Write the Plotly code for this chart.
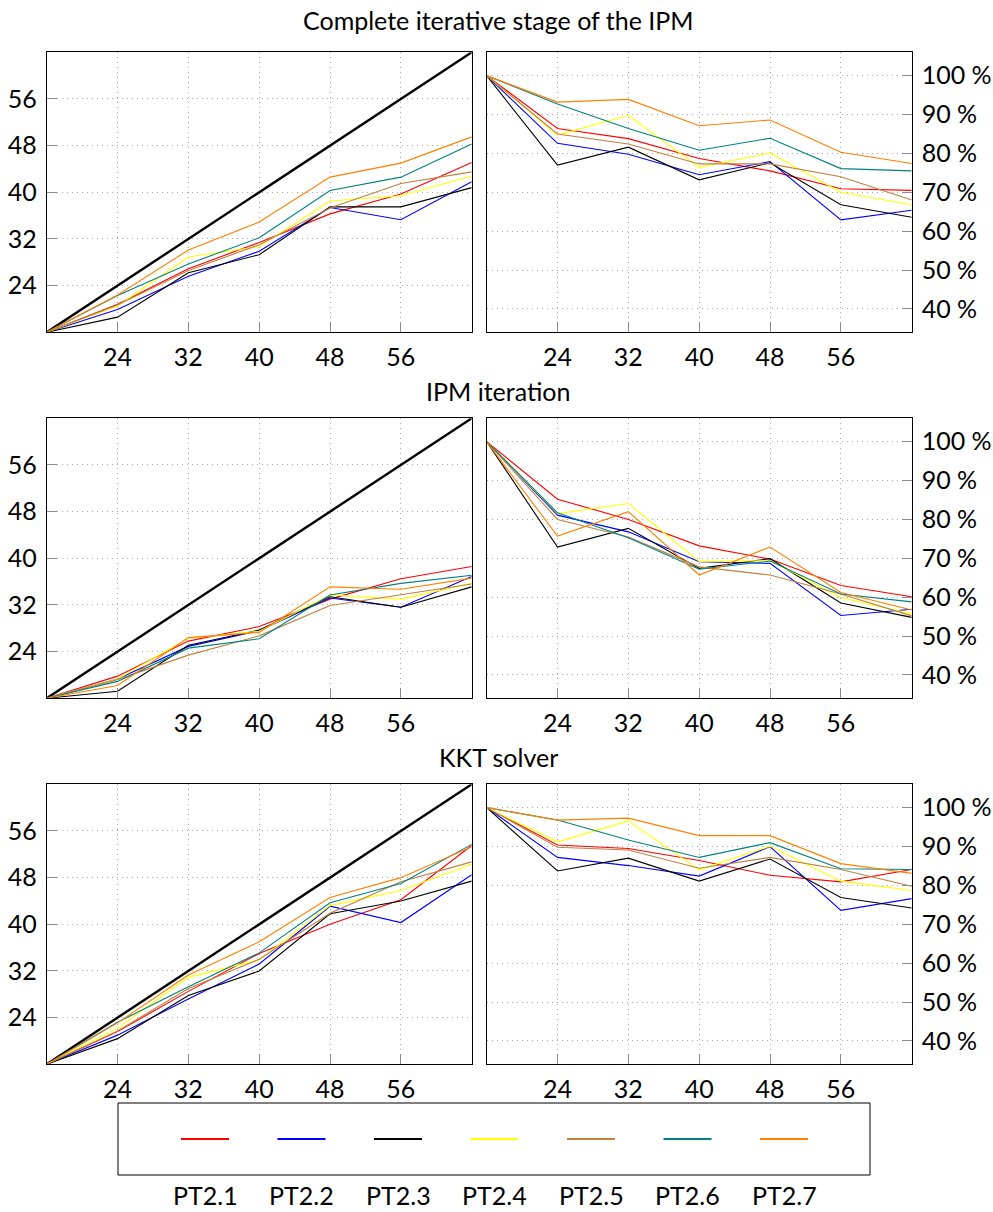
import plotly.graph_objects as go

threads = [16, 24, 32, 40, 48, 56, 64]
ideal = [16, 24, 32, 40, 48, 56, 64]

series_names = ["PT2.1", "PT2.2", "PT2.3", "PT2.4", "PT2.5", "PT2.6", "PT2.7"]
series_colors = ["#ff0000", "#0000ff", "#000000", "#ffff00", "#bf8040", "#008080", "#ff8000"]

panel_titles = ["Complete iterative stage of the IPM", "IPM iteration", "KKT solver"]

# Speedup (left column)
speedup_complete = [
    [16, 20.8, 26.9, 31.4, 36.3, 39.7, 45.1],
    [16, 19.9, 25.6, 29.9, 37.4, 35.3, 41.8],
    [16, 18.6, 26.2, 29.3, 37.5, 37.5, 40.8],
    [16, 20.5, 28.9, 30.7, 38.5, 39.4, 42.8],
    [16, 20.7, 26.6, 31.0, 37.3, 41.5, 43.5],
    [16, 22.3, 27.7, 32.2, 40.3, 42.6, 48.3],
    [16, 22.4, 30.1, 34.9, 42.6, 45.0, 49.5],
]
speedup_ipm = [
    [16, 19.8, 25.8, 28.3, 33.0, 36.5, 38.6],
    [16, 19.3, 24.9, 27.6, 33.2, 31.6, 36.9],
    [16, 17.2, 25.1, 27.7, 33.4, 31.6, 35.1],
    [16, 19.3, 26.3, 27.5, 33.7, 33.0, 35.7],
    [16, 19.2, 23.4, 26.7, 31.9, 33.7, 35.6],
    [16, 18.9, 24.6, 26.2, 33.7, 35.7, 37.1],
    [16, 18.2, 26.4, 27.3, 35.1, 34.7, 36.6],
]
speedup_kkt = [
    [16, 21.6, 28.5, 35.0, 40.0, 44.2, 53.5],
    [16, 21.0, 27.2, 33.2, 43.1, 40.3, 48.5],
    [16, 20.4, 27.8, 32.0, 41.8, 44.0, 47.4],
    [16, 22.2, 30.9, 33.9, 43.2, 45.8, 50.3],
    [16, 21.7, 29.0, 34.0, 41.9, 47.3, 50.7],
    [16, 23.2, 29.3, 35.1, 43.7, 47.0, 53.7],
    [16, 23.1, 31.3, 37.0, 44.6, 48.0, 53.3],
]

# Efficiency in % (right column)
eff_complete = [
    [100, 86.4, 83.8, 78.7, 75.5, 70.9, 70.5],
    [100, 82.6, 79.8, 74.5, 77.9, 62.9, 65.4],
    [100, 77.0, 81.6, 73.2, 77.6, 66.8, 63.6],
    [100, 84.7, 89.8, 76.4, 80.1, 70.0, 66.8],
    [100, 85.0, 82.4, 77.3, 77.3, 74.0, 68.0],
    [100, 92.7, 86.4, 80.8, 83.9, 76.1, 75.5],
    [100, 93.2, 93.9, 87.1, 88.6, 80.3, 77.4],
]
eff_ipm = [
    [100, 85.2, 80.0, 73.2, 69.8, 63.0, 60.1],
    [100, 81.1, 76.8, 69.1, 68.7, 55.3, 56.9],
    [100, 72.9, 77.7, 67.4, 69.9, 58.5, 54.8],
    [100, 81.5, 84.1, 69.2, 69.4, 59.9, 55.7],
    [100, 80.0, 75.5, 67.8, 65.7, 60.8, 55.2],
    [100, 81.7, 75.3, 67.2, 69.3, 60.8, 58.8],
    [100, 75.7, 82.0, 65.7, 72.9, 61.2, 56.7],
]
eff_kkt = [
    [100, 90.4, 89.5, 86.4, 82.6, 80.9, 84.1],
    [100, 87.2, 85.1, 82.4, 90.0, 73.6, 76.6],
    [100, 83.7, 87.0, 81.1, 86.8, 76.9, 74.2],
    [100, 91.2, 96.6, 84.0, 90.1, 81.1, 78.7],
    [100, 89.8, 89.1, 84.4, 87.2, 84.1, 79.8],
    [100, 96.8, 91.7, 87.2, 91.0, 84.3, 84.1],
    [100, 96.8, 97.3, 92.8, 92.8, 85.6, 83.1],
]

x_ticks = [24, 32, 40, 48, 56]
speedup_ticks = [24, 32, 40, 48, 56]
eff_ticks = [40, 50, 60, 70, 80, 90, 100]
eff_ticktext = ["40 %", "50 %", "60 %", "70 %", "80 %", "90 %", "100 %"]

speedups = [speedup_complete, speedup_ipm, speedup_kkt]
effs = [eff_complete, eff_ipm, eff_kkt]

W, H = 993, 1212
FONT = "Lato, 'Liberation Sans', sans-serif"
FS = 25

fig = go.Figure()

# pixel geometry
xl = (46.7 / W, 471.7 / W)
xr = (486.7 / W, 911.7 / W)
rows_px = [(52.3, 332.3), (418.3, 698.3), (784.3, 1064.3)]
title_y_px = [20, 391, 757]
title_x_px = 498

layout = dict(
    width=W, height=H,
    margin=dict(l=0, r=0, t=0, b=0),
    paper_bgcolor="white", plot_bgcolor="white",
    showlegend=False,
    font=dict(family=FONT, size=FS, color="black"),
)

grid_color = "#a8a8a8"
grid_dash = "1px,4px"

def xaxis_cfg(anchor):
    return dict(
        range=[16, 64], tickvals=x_ticks, ticks="inside", ticklen=10, tickcolor="#8c8c8c",
        tickwidth=1, showgrid=True, gridcolor=grid_color, griddash=grid_dash, gridwidth=1,
        showline=True, mirror=True, linecolor="black", linewidth=1, zeroline=False,
        anchor=anchor, tickfont=dict(size=FS), ticklabelstandoff=3,
    )

def yaxis_cfg(anchor, rng, vals, texts, side):
    return dict(
        range=rng, tickvals=vals, ticktext=texts, ticks="inside", ticklen=10, tickcolor="#8c8c8c",
        tickwidth=1, showgrid=True, gridcolor=grid_color, griddash=grid_dash, gridwidth=1,
        showline=True, mirror=True, linecolor="black", linewidth=1, zeroline=False,
        anchor=anchor, side=side, tickfont=dict(size=FS), ticklabelstandoff=4,
    )

annotations = []
shapes = []

for r in range(3):
    top, bot = rows_px[r]
    yd = (1 - bot / H, 1 - top / H)
    il = 2 * r + 1
    ir = 2 * r + 2
    xn_l = "xaxis" if il == 1 else f"xaxis{il}"
    yn_l = "yaxis" if il == 1 else f"yaxis{il}"
    xn_r = f"xaxis{ir}"
    yn_r = f"yaxis{ir}"
    layout[xn_l] = dict(domain=list(xl), **xaxis_cfg(f"y{'' if il == 1 else il}"))
    layout[yn_l] = dict(domain=list(yd), **yaxis_cfg(f"x{'' if il == 1 else il}", [16, 64],
                                                     speedup_ticks, [str(v) for v in speedup_ticks], "left"))
    layout[xn_r] = dict(domain=list(xr), **xaxis_cfg(f"y{ir}"))
    layout[yn_r] = dict(domain=list(yd), **yaxis_cfg(f"x{ir}", [34, 106], eff_ticks, eff_ticktext, "right"))

    xref_l = "x" if il == 1 else f"x{il}"
    yref_l = "y" if il == 1 else f"y{il}"

    fig.add_trace(go.Scatter(x=threads, y=ideal, mode="lines", line=dict(color="black", width=2.4),
                             xaxis=xref_l, yaxis=yref_l, hoverinfo="skip"))
    for s in range(7):
        fig.add_trace(go.Scatter(x=threads, y=speedups[r][s], mode="lines", name=series_names[s],
                                 line=dict(color=series_colors[s], width=1.1),
                                 xaxis=xref_l, yaxis=yref_l))
    for s in range(7):
        fig.add_trace(go.Scatter(x=threads, y=effs[r][s], mode="lines", name=series_names[s],
                                 line=dict(color=series_colors[s], width=1.1),
                                 xaxis=f"x{ir}", yaxis=f"y{ir}"))

    annotations.append(dict(text=panel_titles[r], x=title_x_px / W, y=1 - title_y_px[r] / H,
                            xref="paper", yref="paper", xanchor="center", yanchor="middle",
                            showarrow=False, font=dict(size=FS)))

# Legend box (pgfplots style: sample lines inside the box, labels below it)
shapes.append(dict(type="rect", xref="paper", yref="paper", x0=118 / W, x1=870 / W,
                   y0=1 - 1175 / H, y1=1 - 1103 / H, line=dict(color="black", width=1), fillcolor="rgba(0,0,0,0)"))
for i in range(7):
    cx = 205 + i * 96.5
    shapes.append(dict(type="line", xref="paper", yref="paper", x0=(cx - 24) / W, x1=(cx + 24) / W,
                       y0=1 - 1139 / H, y1=1 - 1139 / H, line=dict(color=series_colors[i], width=2)))
    annotations.append(dict(text=series_names[i], x=cx / W, y=1 - 1195 / H, xref="paper", yref="paper",
                            xanchor="center", yanchor="middle", showarrow=False, font=dict(size=FS)))

layout["annotations"] = annotations
layout["shapes"] = shapes
fig.update_layout(**layout)

fig.write_html("out.html")
